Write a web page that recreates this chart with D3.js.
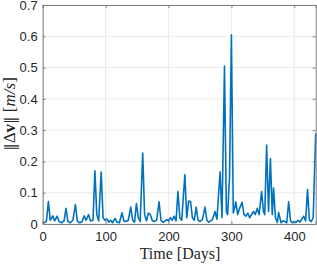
<!DOCTYPE html>
<html>
<head>
<meta charset="utf-8">
<script src="https://cdn.jsdelivr.net/npm/d3@7"></script>
<style>
  html, body { margin: 0; padding: 0; background: #fff; }
  svg { display: block; }
  .tick text { font-family: "Liberation Sans", Arial, sans-serif; font-size: 13px; fill: #262626; }
  .axis-label { font-family: "Liberation Serif", "Times New Roman", serif; fill: #262626; }
</style>
</head>
<body>
<div id="chart"></div>
<script>
// day of each sample, and the |dv| value
const days = [
  0, 3, 6, 9, 12, 16, 19, 23, 26, 30, 34, 37, 40, 44, 48, 52, 55, 58, 62, 66,
  69, 73, 76, 80, 83, 86, 89, 93, 96, 99, 102, 105, 108, 111, 115, 118, 122, 126, 129, 132,
  136, 140, 143, 146, 149, 152, 155, 159, 162, 165, 168, 171, 174, 177, 181, 185, 188, 191, 194, 197,
  200, 203, 206, 209, 212, 215, 218, 221, 226, 229, 232, 235, 238, 241, 244, 247, 250, 254, 258, 261,
  264, 267, 270, 274, 277, 282, 285, 289, 292, 294, 297, 300, 303, 306, 307, 310, 313, 317, 320, 323,
  326, 329, 332, 335, 338, 341, 344, 348, 351, 353, 356, 359, 362, 365, 367, 370, 373, 375, 379, 382,
  385, 388, 391, 394, 397, 400, 403, 406, 409, 412, 415, 418, 421, 424, 427, 430, 434
];
const deltaV = [
  0.005, 0.004, 0.01, 0.072, 0.012, 0.026, 0.01, 0.025, 0.008, 0.004, 0.01, 0.05, 0.008, 0.004, 0.012, 0.062, 0.01, 0.004, 0.006, 0.026,
  0.012, 0.03, 0.01, 0.012, 0.17, 0.03, 0.01, 0.166, 0.02, 0.012, 0.016, 0.006, 0.012, 0.004, 0.018, 0.006, 0.004, 0.036, 0.01, 0.008,
  0.012, 0.054, 0.012, 0.006, 0.065, 0.02, 0.008, 0.227, 0.03, 0.01, 0.035, 0.03, 0.012, 0.008, 0.012, 0.071, 0.012, 0.006, 0.008, 0.014,
  0.01, 0.02, 0.012, 0.025, 0.01, 0.104, 0.02, 0.012, 0.157, 0.02, 0.073, 0.072, 0.02, 0.012, 0.054, 0.012, 0.008, 0.015, 0.054, 0.012,
  0.006, 0.01, 0.015, 0.04, 0.015, 0.167, 0.02, 0.505, 0.04, 0.03, 0.15, 0.605, 0.035, 0.06, 0.071, 0.03, 0.05, 0.069, 0.03, 0.025,
  0.035, 0.02, 0.03, 0.04, 0.03, 0.05, 0.03, 0.104, 0.04, 0.03, 0.252, 0.04, 0.209, 0.03, 0.115, 0.02, 0.005, 0.037, 0.004, 0.01,
  0.008, 0.004, 0.071, 0.01, 0.004, 0.008, 0.006, 0.012, 0.006, 0.016, 0.025, 0.01, 0.11, 0.012, 0.008, 0.02, 0.29
];
const xTicks = [0, 100, 200, 300, 400];
const yTicks = [0, 0.1, 0.2, 0.3, 0.4, 0.5, 0.6, 0.7];

const width = 317, height = 264;
const margin = { top: 5, right: 1.3, bottom: 40, left: 42.7 };
const innerWidth = width - margin.left - margin.right;
const innerHeight = height - margin.top - margin.bottom;

const data = days.map((d, i) => ({ day: d, v: deltaV[i] }));

const x = d3.scaleLinear().domain([0, 434]).range([0, innerWidth]);
const y = d3.scaleLinear().domain([0, 0.7]).range([innerHeight, 0]);

const svg = d3.select("#chart").append("svg")
  .attr("width", width)
  .attr("height", height);

const g = svg.append("g").attr("transform", `translate(${margin.left},${margin.top})`);

// grid
g.append("g")
  .selectAll("line.gx").data(xTicks).enter().append("line")
  .attr("x1", (d) => x(d)).attr("x2", (d) => x(d))
  .attr("y1", 0).attr("y2", innerHeight)
  .attr("stroke", "#e6e6e6").attr("stroke-width", 0.8);
g.append("g")
  .selectAll("line.gy").data(yTicks).enter().append("line")
  .attr("x1", 0).attr("x2", innerWidth)
  .attr("y1", (d) => y(d)).attr("y2", (d) => y(d))
  .attr("stroke", "#e6e6e6").attr("stroke-width", 0.8);

// data line
const line = d3.line().x((d) => x(d.day)).y((d) => y(d.v));
g.append("path")
  .datum(data)
  .attr("fill", "none")
  .attr("stroke", "#0072BD")
  .attr("stroke-width", 1.6)
  .attr("stroke-linejoin", "round")
  .attr("d", line);

// axes, MATLAB style: ticks inward, box on
const axisColor = "#808080";
const tickLen = 3;
const xAxis = g.append("g").attr("transform", `translate(0,${innerHeight})`)
  .call(d3.axisBottom(x).tickValues(xTicks).tickSize(-tickLen).tickPadding(8).tickFormat(d3.format("d")));
const yAxis = g.append("g")
  .call(d3.axisLeft(y).tickValues(yTicks).tickSize(-tickLen).tickPadding(5)
    .tickFormat((d) => d === 0 ? "0" : d3.format(".1f")(d)));
const xTop = g.append("g")
  .call(d3.axisTop(x).tickValues(xTicks).tickSize(-tickLen).tickFormat(""));
const yRight = g.append("g").attr("transform", `translate(${innerWidth},0)`)
  .call(d3.axisRight(y).tickValues(yTicks).tickSize(-tickLen).tickFormat(""));

[xAxis, yAxis, xTop, yRight].forEach((a) => {
  a.select(".domain").attr("stroke", axisColor).attr("stroke-width", 1);
  a.selectAll(".tick line").attr("stroke", axisColor);
});

// labels
svg.append("text")
  .attr("class", "axis-label")
  .attr("x", 180).attr("y", 259)
  .attr("text-anchor", "middle")
  .attr("font-size", 16)
  .text("Time [Days]");

const yl = svg.append("text")
  .attr("class", "axis-label")
  .attr("transform", "translate(15,114) rotate(-90)")
  .attr("text-anchor", "middle")
  .attr("font-size", 17)
  .attr("fill", "#555");
yl.append("tspan").attr("font-family", "DejaVu Serif").attr("font-size", 15).text("\u2016");
yl.append("tspan").text("\u0394");
yl.append("tspan").attr("font-weight", "bold").text("v");
yl.append("tspan").attr("font-family", "DejaVu Serif").attr("font-size", 15).text("\u2016");
yl.append("tspan").text(" [");
yl.append("tspan").attr("font-style", "italic").text("m/s");
yl.append("tspan").text("]");
</script>
</body>
</html>
